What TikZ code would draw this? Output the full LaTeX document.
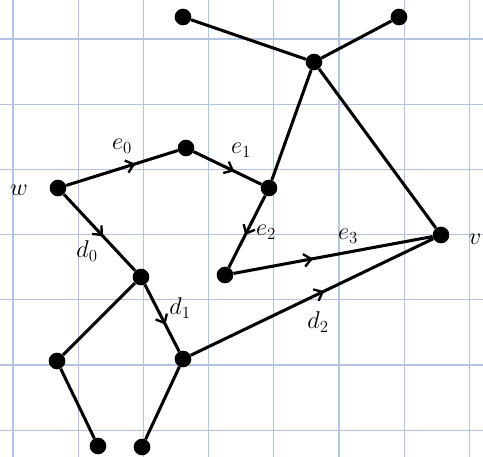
\documentclass[tikz,border=0pt]{standalone}
\usetikzlibrary{arrows.meta,decorations.markings}
\definecolor{gridblue}{RGB}{178,196,226}
\tikzset{
  dot/.style={circle, fill=black, inner sep=0pt, minimum size=5mm},
  edge/.style={line width=2.6pt},
  mid/.style={edge, postaction={decorate},
    decoration={markings, mark=at position #1 with
      {\arrow{Straight Barb[length=2.2mm,width=3.8mm,line width=2pt]}}}},
  mid/.default=0.5,
  lbl/.style={font=\huge, inner sep=0pt},
}

\begin{document}
\begin{tikzpicture}[x=0.03cm, y=-0.03cm]
  \useasboundingbox (0,0) rectangle (483,457);
  % grid paper
  \foreach \gx in {13,78.2,...,480} \draw[gridblue, line width=1pt] (\gx,0) -- (\gx,457);
  \foreach \gy in {39,104.2,...,450} \draw[gridblue, line width=1pt] (0,\gy) -- (483,\gy);

  \node[dot] (tl) at (183,17) {};
  \node[dot] (tr) at (399,17) {};
  \node[dot] (hub) at (314,62) {};
  \node[dot] (a) at (186,148) {};
  \node[dot] (w) at (58,188) {};
  \node[dot] (b) at (269,188) {};
  \node[dot] (c) at (225,275) {};
  \node[dot] (v) at (441,235) {};
  \node[dot] (p) at (141,277) {};
  \node[dot] (q) at (183,359) {};
  \node[dot] (lm) at (57,361) {};
  \node[dot] (bl) at (98,446) {};
  \node[dot] (br) at (142,447) {};

  \draw[edge] (tl) -- (hub);
  \draw[edge] (tr) -- (hub);
  \draw[edge] (hub) -- (b);
  \draw[edge] (hub) -- (v);
  \draw[edge] (p) -- (lm);
  \draw[edge] (lm) -- (bl);
  \draw[edge] (q) -- (br);

  \draw[mid=0.62] (w) -- (a);
  \draw[mid=0.6] (a) -- (b);
  \draw[mid=0.55] (b) -- (c);
  \draw[mid=0.4] (c) -- (v);
  \draw[mid=0.55] (w) -- (p);
  \draw[mid=0.6] (p) -- (q);
  \draw[mid=0.55] (q) -- (v);

  \node[lbl] (lw) at (19,190) {$w$};
  \node[lbl] (lv) at (475,239) {$v$};
  \node[lbl] (le0) at (122,146) {$e_0$};
  \node[lbl] (le1) at (241,150) {$e_1$};
  \node[lbl] (le2) at (266,232) {$e_2$};
  \node[lbl] (le3) at (348,236) {$e_3$};
  \node[lbl] (ld0) at (87,251) {$d_0$};
  \node[lbl] (ld1) at (180,308) {$d_1$};
  \node[lbl] (ld2) at (318,322) {$d_2$};
\end{tikzpicture}
\end{document}
